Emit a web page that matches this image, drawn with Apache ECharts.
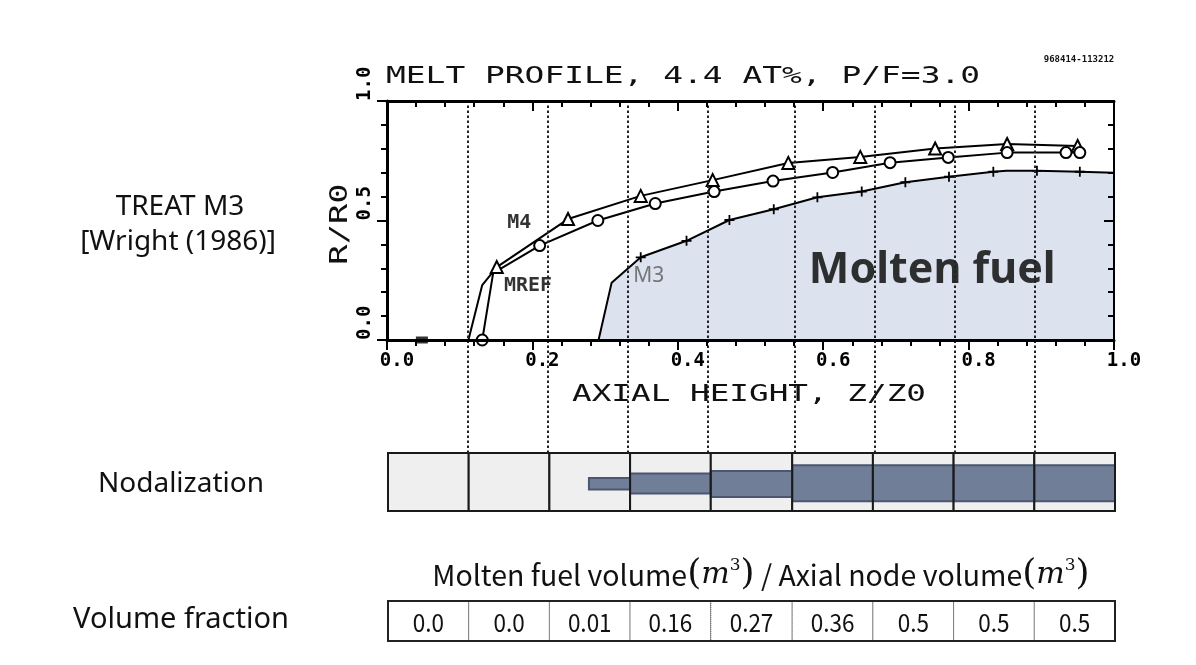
<!DOCTYPE html>
<html>
<head>
<meta charset="utf-8">
<script src="https://cdn.jsdelivr.net/npm/echarts@6.0.0/dist/echarts.min.js"></script>
<style>
html,body{margin:0;padding:0;background:#fff;}
#chart{width:1196px;height:665px;}
</style>
</head>
<body>
<div id="chart"></div>
<script>
// ---------------- data ----------------
const xTickLabels = ['0.0', '0.2', '0.4', '0.6', '0.8', '1.0'];
const yTickLabels = ['0.0', '0.5', '1.0'];
// [Z/Z0, R/R0, marker(1) or plain point(0)]
const m4 = [[0.112, 0, 0], [0.131, 0.230, 0], [0.151, 0.305, 1], [0.249, 0.506, 1], [0.349, 0.603, 1],
  [0.448, 0.669, 1], [0.552, 0.741, 1], [0.651, 0.766, 1], [0.754, 0.801, 1], [0.853, 0.820, 1], [0.950, 0.812, 1]];
const mref = [[0.131, 0, 1], [0.146, 0.280, 0], [0.210, 0.395, 1], [0.290, 0.500, 1], [0.369, 0.571, 1],
  [0.450, 0.621, 1], [0.531, 0.665, 1], [0.613, 0.701, 1], [0.692, 0.742, 1], [0.772, 0.764, 1],
  [0.853, 0.784, 1], [0.934, 0.784, 1], [0.953, 0.784, 1]];
const m3 = [[0.291, 0, 0], [0.309, 0.240, 0], [0.349, 0.346, 1], [0.412, 0.415, 1], [0.471, 0.502, 1],
  [0.532, 0.547, 1], [0.592, 0.597, 1], [0.653, 0.621, 1], [0.713, 0.660, 1], [0.773, 0.683, 1],
  [0.834, 0.704, 1], [0.852, 0.708, 0], [0.894, 0.708, 1], [0.953, 0.704, 1], [1.0, 0.700, 0]];
const baseMark = [[0.048, 0]];
const curveLabels = ['M4', 'MREF', 'M3', 'Molten fuel'];
const curveLabelPos = [[0.182, 0.492], [0.194, 0.227], [0.360, 0.266], [0.750, 0.289]];
// axial nodes (Z/Z0 boundaries)
const nodeEdges = [0, 0.111, 0.222, 0.333, 0.444, 0.556, 0.667, 0.778, 0.889, 1.0];
// molten region drawn in each node: start (fraction of node length), top / bottom (fraction of node height)
const meltStart = [0, 0, 0.49, 0, 0, 0, 0, 0, 0];
const meltTop = [0, 0, 0.57, 0.645, 0.69, 0.79, 0.79, 0.79, 0.79];
const meltBottom = [0, 0, 0.37, 0.30, 0.24, 0.17, 0.17, 0.17, 0.17];
const volFrac = [0.0, 0.0, 0.01, 0.16, 0.27, 0.36, 0.5, 0.5, 0.5];

// ---------------- chart ----------------
const MONO = '"DejaVu Sans Mono", monospace';
const SANS = '"Noto Sans", sans-serif';
const KR = '"Noto Sans CJK KR", sans-serif';
const PLUS = 'path://M4.1,0H5.9V10H4.1ZM0,4.1H10V5.9H0Z';

function lineData(arr, sym) {
  return arr.map(p => ({ value: [p[0], p[1]], symbol: p[2] ? sym : 'none' }));
}
function fmtFrac(v) { return v === 0 ? '0.0' : String(v); }

const nodeData = nodeEdges.slice(0, -1).map((e, i) => [e, nodeEdges[i + 1],
  e + (nodeEdges[i + 1] - e) * meltStart[i], meltTop[i], meltBottom[i]]);
const volData = nodeEdges.slice(0, -1).map((e, i) => [e, nodeEdges[i + 1], volFrac[i]]);

function renderNode(params, api) {
  const x0 = api.value(0), x1 = api.value(1), ms = api.value(2), top = api.value(3), bot = api.value(4);
  const a = api.coord([x0, 1]), b = api.coord([x1, 0]);
  const box = { x: a[0], y: a[1], width: b[0] - a[0], height: b[1] - a[1] };
  const children = [{ type: 'rect', shape: box, style: { fill: '#efefef' } }];
  if (top > bot) {
    const c = api.coord([ms, top]), d = api.coord([x1, bot]);
    children.push({ type: 'rect', shape: { x: c[0], y: c[1], width: d[0] - c[0], height: d[1] - c[1] },
      style: { fill: '#717e98', stroke: '#4b5770', lineWidth: 2 } });
  }
  children.push({ type: 'rect', shape: box, style: { fill: 'none', stroke: '#1a1a1a', lineWidth: 2 } });
  return { type: 'group', children };
}
function renderVol(params, api) {
  const x0 = api.value(0), x1 = api.value(1), v = api.value(2);
  const a = api.coord([x0, 1]), b = api.coord([x1, 0]);
  return { type: 'group', children: [
    { type: 'rect', shape: { x: a[0], y: a[1], width: b[0] - a[0], height: b[1] - a[1] },
      style: { fill: '#fff', stroke: '#333', lineWidth: 1, lineDash: [1, 1] } },
    { type: 'text', x: (a[0] + b[0]) / 2, y: (a[1] + b[1]) / 2 + 1, scaleX: 0.9,
      style: { text: fmtFrac(v), align: 'center', verticalAlign: 'middle', fontSize: 25, fontFamily: KR, fill: '#111' } }
  ] };
}
function renderFrame(params, api) {
  const a = api.coord([0, 1]), b = api.coord([1, 0]);
  return { type: 'rect', shape: { x: a[0], y: a[1], width: b[0] - a[0], height: b[1] - a[1] },
    style: { fill: 'none', stroke: '#222', lineWidth: 2 } };
}

const axisLineStyle = { color: '#000', width: 3 };
const tickStyle = { color: '#000', width: 2 };

const option = {
  animation: false,
  backgroundColor: '#fff',
  grid: [
    { left: 387, top: 101, width: 727, height: 239, outerBoundsMode: 'none' },
    { left: 388, top: 101, width: 727, height: 352, outerBoundsMode: 'none' },
    { left: 388, top: 453, width: 727, height: 58, outerBoundsMode: 'none' },
    { left: 388, top: 601, width: 727, height: 40, outerBoundsMode: 'none' }
  ],
  xAxis: [
    { gridIndex: 0, type: 'value', min: 0, max: 1, interval: 0.2, position: 'bottom', z: 10,
      axisLine: { onZero: false, lineStyle: axisLineStyle },
      axisTick: { show: true, inside: false, length: 10, lineStyle: tickStyle },
      minorTick: { show: true, splitNumber: 5, length: 6, lineStyle: tickStyle },
      splitLine: { show: false },
      axisLabel: { margin: 12, padding: [0, 0, 0, 20], color: '#000', fontFamily: MONO, fontWeight: 'bold', fontSize: 19,
        formatter: v => xTickLabels[Math.round(v / 0.2)] } },
    { gridIndex: 0, type: 'value', min: 0, max: 1, interval: 0.2, position: 'top', z: 10,
      axisLine: { onZero: false, lineStyle: axisLineStyle },
      axisTick: { show: true, inside: true, length: 10, lineStyle: tickStyle },
      minorTick: { show: true, splitNumber: 5, length: 6, lineStyle: tickStyle },
      splitLine: { show: false }, axisLabel: { show: false } },
    { gridIndex: 1, type: 'value', min: 0, max: 1, show: false },
    { gridIndex: 2, type: 'value', min: 0, max: 1, show: false },
    { gridIndex: 3, type: 'value', min: 0, max: 1, show: false }
  ],
  yAxis: [
    { gridIndex: 0, type: 'value', min: 0, max: 1, interval: 0.5, position: 'left', z: 10,
      axisLine: { onZero: false, lineStyle: axisLineStyle },
      axisTick: { show: true, inside: false, length: 10, lineStyle: tickStyle },
      minorTick: { show: true, splitNumber: 5, length: 6, lineStyle: tickStyle },
      splitLine: { show: false },
      axisLabel: { margin: 12, rotate: 90, align: 'left', color: '#000', fontFamily: MONO, fontWeight: 'bold', fontSize: 19,
        formatter: v => yTickLabels[Math.round(v / 0.5)] } },
    { gridIndex: 0, type: 'value', min: 0, max: 1, interval: 0.5, position: 'right', z: 10,
      axisLine: { onZero: false, lineStyle: { color: '#000', width: 2 } },
      axisTick: { show: true, inside: true, length: 10, lineStyle: tickStyle },
      minorTick: { show: true, splitNumber: 5, length: 6, lineStyle: tickStyle },
      splitLine: { show: false }, axisLabel: { show: false } },
    { gridIndex: 1, type: 'value', min: 0, max: 1, show: false },
    { gridIndex: 2, type: 'value', min: 0, max: 1, show: false },
    { gridIndex: 3, type: 'value', min: 0, max: 1, show: false }
  ],
  series: [
    { name: 'M3', type: 'line', xAxisIndex: 0, yAxisIndex: 0, z: 1, data: lineData(m3, PLUS),
      symbolSize: 10, lineStyle: { color: '#000', width: 2 }, itemStyle: { color: '#000' },
      areaStyle: { color: '#dde3ee', opacity: 1 } },
    { name: 'M4', type: 'line', xAxisIndex: 0, yAxisIndex: 0, z: 2, data: lineData(m4, 'emptyTriangle'),
      symbolSize: 12, lineStyle: { color: '#000', width: 2 }, itemStyle: { color: '#000', borderWidth: 1.5 } },
    { name: 'MREF', type: 'line', xAxisIndex: 0, yAxisIndex: 0, z: 2, data: lineData(mref, 'emptyCircle'),
      symbolSize: 11, lineStyle: { color: '#000', width: 2 }, itemStyle: { color: '#000', borderWidth: 1.5 } },
    { name: 'base', type: 'scatter', xAxisIndex: 0, yAxisIndex: 0, z: 4, data: baseMark,
      symbol: 'rect', symbolSize: [12, 7], itemStyle: { color: '#000' } },
    { name: 'labels', type: 'scatter', xAxisIndex: 0, yAxisIndex: 0, z: 2, symbolSize: 0, silent: true,
      data: curveLabels.map((t, i) => {
        const big = t === 'Molten fuel', grey = t === 'M3';
        return { value: curveLabelPos[i], label: { show: true, position: 'inside', formatter: t,
          fontFamily: big || grey ? SANS : MONO, fontSize: big ? 43 : (grey ? 21 : 20),
          fontWeight: grey ? 'normal' : 'bold', color: grey ? '#5a5a5a' : '#000' } };
      }) },
    { name: 'guides', type: 'scatter', xAxisIndex: 2, yAxisIndex: 2, z: 3, symbolSize: 0, silent: true,
      data: [[0, 0]],
      markLine: { silent: true, symbol: ['none', 'none'], label: { show: false },
        lineStyle: { color: '#222', width: 2, type: [2.5, 2.5] },
        data: nodeEdges.slice(1, -1).map(x => ({ xAxis: x })) } },
    { name: 'nodes', type: 'custom', xAxisIndex: 3, yAxisIndex: 3, z: 4, renderItem: renderNode,
      data: nodeData, encode: { x: [0, 1, 2], y: [3, 4] } },
    { name: 'volume', type: 'custom', xAxisIndex: 4, yAxisIndex: 4, z: 4, renderItem: renderVol,
      data: volData, encode: { x: [0, 1], y: 2 } },
    { name: 'frame', type: 'custom', xAxisIndex: 4, yAxisIndex: 4, z: 5, renderItem: renderFrame,
      data: [[0, 1]], encode: { x: 0, y: 1 } }
  ],
  graphic: [
    { type: 'text', x: 386, y: 77, scaleX: 1.43, z: 20,
      style: { text: 'MELT PROFILE, 4.4 AT%, P/F=3.0', font: '23px ' + MONO, fill: '#111', align: 'left', verticalAlign: 'middle' } },
    { type: 'text', x: 749, y: 395, scaleX: 1.42, z: 20,
      style: { text: 'AXIAL HEIGHT, Z/Z0', font: '23px ' + MONO, fill: '#111', align: 'center', verticalAlign: 'middle' } },
    { type: 'text', x: 340, y: 224, rotation: Math.PI / 2, scaleX: 1.35, z: 20,
      style: { text: 'R/R0', font: '25px ' + MONO, fill: '#111', align: 'center', verticalAlign: 'middle' } },
    { type: 'text', x: 1079, y: 60, z: 20,
      style: { text: '968414-113212', font: 'bold 9px ' + MONO, fill: '#111', align: 'center', verticalAlign: 'middle' } },
    { type: 'text', x: 180, y: 207, z: 20,
      style: { text: 'TREAT M3', font: '28px ' + SANS, fill: '#111', align: 'center', verticalAlign: 'middle' } },
    { type: 'text', x: 178, y: 242, z: 20,
      style: { text: '[Wright (1986)]', font: '28px ' + SANS, fill: '#111', align: 'center', verticalAlign: 'middle' } },
    { type: 'text', x: 181, y: 484, z: 20,
      style: { text: 'Nodalization', font: '28px ' + SANS, fill: '#111', align: 'center', verticalAlign: 'middle' } },
    { type: 'text', x: 181, y: 620, z: 20,
      style: { text: 'Volume fraction', font: '29px ' + SANS, fill: '#111', align: 'center', verticalAlign: 'middle' } },
    { type: 'text', x: 761, y: 575, z: 20,
      style: { text: '{a|Molten fuel volume}{p|(}{m|m}{s|3}{p|)}{a| / Axial node volume}{p|(}{m|m}{s|3}{p|)}',
        align: 'center', verticalAlign: 'middle',
        rich: {
          a: { fontSize: 28.5, fontFamily: KR, fill: '#111' },
          p: { fontSize: 36, fontFamily: '"DejaVu Serif", serif', fill: '#111' },
          m: { fontSize: 30, fontFamily: '"DejaVu Serif", serif', fontStyle: 'italic', fill: '#111' },
          s: { fontSize: 17, fontFamily: '"DejaVu Serif", serif', fill: '#111', verticalAlign: 'top' }
        } } }
  ]
};

const chart = echarts.init(document.getElementById('chart'), null, { renderer: 'canvas' });
chart.setOption(option);
</script>
</body>
</html>
